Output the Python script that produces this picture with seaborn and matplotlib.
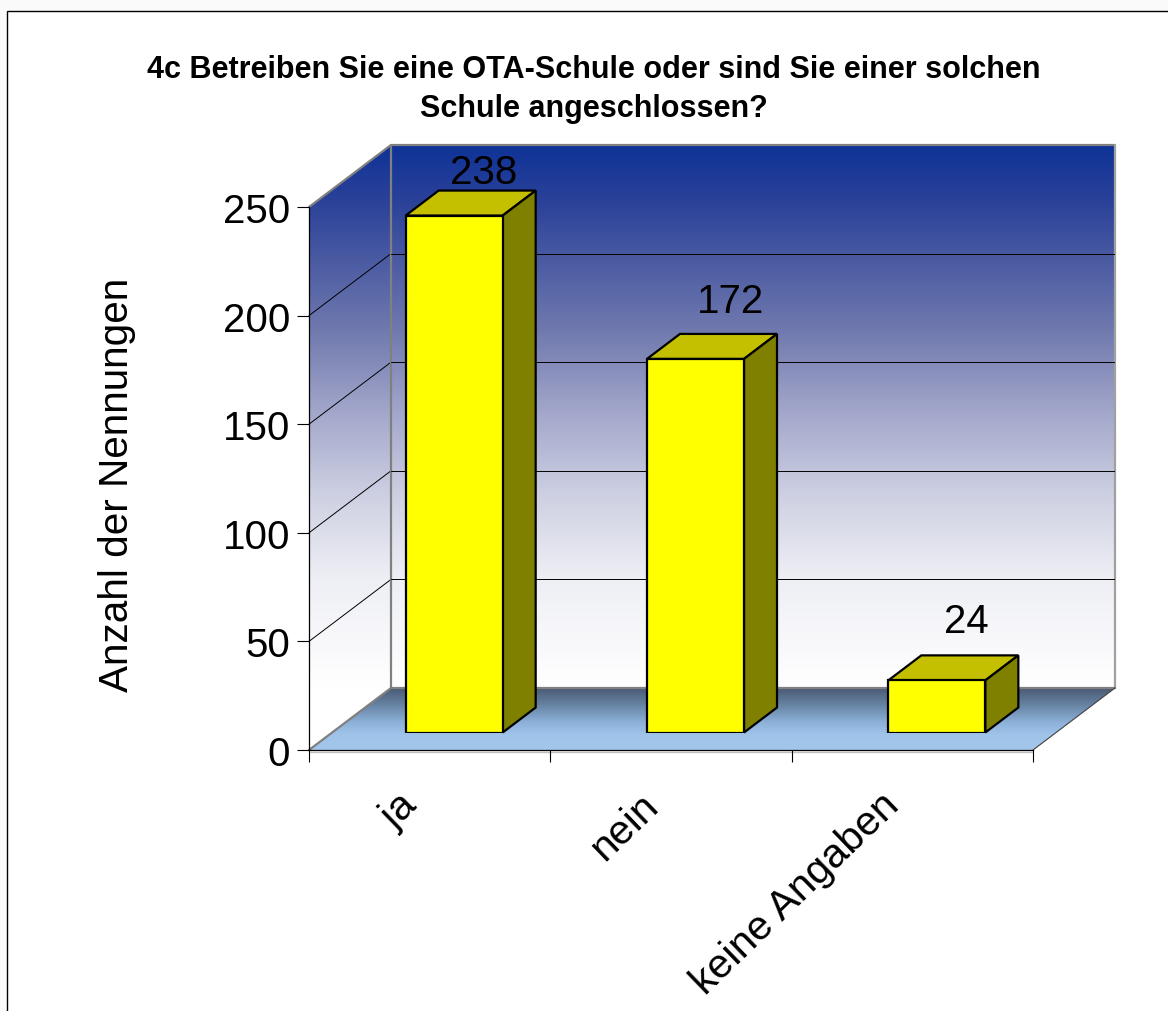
import numpy as np
import matplotlib
matplotlib.use("Agg")
from matplotlib import pyplot as plt
from matplotlib.colors import LinearSegmentedColormap
from matplotlib.patches import Polygon, Rectangle
from matplotlib.transforms import IdentityTransform
import seaborn as sns

# Daten
categories = ["ja", "nein", "keine Angaben"]
values = [238, 172, 24]
y_ticks = [0, 50, 100, 150, 200, 250]
label_lift = [44, 58, 59]
label_shift = [29, 34.5, 29.5]

title = "4c Betreiben Sie eine OTA-Schule oder sind Sie einer solchen\nSchule angeschlossen?"
y_label = "Anzahl der Nennungen"

# Geometrie in Pixeln
W, H = 1168, 1012
FRONT = (309, 208, 1033, 751)
DEPTH = (82, -62)
BAR_SHIFT = (24.5, -17.5)
BAR_DEPTH = (33, -25)

sns.set_theme(style="white")
plt.rcParams["font.family"] = ["Liberation Sans", "DejaVu Sans"]

fig = plt.figure(figsize=(W / 100, H / 100), dpi=100, facecolor="#fafafa")


def px_axes(left, top, right, bottom):
    ax = fig.add_axes([left / W, 1 - bottom / H, (right - left) / W, (bottom - top) / H])
    ax.patch.set_visible(False)
    return ax


# Hintergrund, Rahmen, Waende, Boden
frame = fig.add_axes([0, 0, 1, 1])
frame.axis("off")
frame.add_patch(Rectangle((6.5, 11.5), W, H, facecolor="white", edgecolor="black", linewidth=1,
                          zorder=0))

wall_cmap = LinearSegmentedColormap.from_list("wall", [
    (0.0, "#0f3397"), (0.1, "#2a4199"), (0.34, "#7079ae"), (0.5, "#a5a9cc"),
    (0.65, "#cfd1e3"), (0.8, "#eeeff5"), (1.0, "#ffffff")])
floor_cmap = LinearSegmentedColormap.from_list("floor", [
    (0.0, "#4a5a73"), (0.25, "#64809f"), (0.55, "#8cb0d8"), (0.75, "#9fc3e9"), (1.0, "#a3c6ec")])
ramp = np.linspace(0, 1, 256).reshape(-1, 1)

x0, top, x1, bottom = FRONT
dx, dy = DEPTH
wall_top, wall_bottom = top + dy, bottom + dy
walls = frame.imshow(ramp, cmap=wall_cmap, aspect="auto", zorder=1,
                     extent=(x0, x1 + dx, wall_bottom, wall_top))
walls.set_clip_path(Polygon([(x0, top), (x0 + dx, wall_top), (x1 + dx, wall_top),
                             (x1 + dx, wall_bottom), (x0 + dx, wall_bottom), (x0, bottom)],
                            transform=frame.transData))
floor = frame.imshow(ramp, cmap=floor_cmap, aspect="auto", zorder=1,
                     extent=(x0, x1 + dx, bottom, wall_bottom))
floor.set_clip_path(Polygon([(x0, bottom), (x0 + dx, wall_bottom), (x1 + dx, wall_bottom),
                             (x1, bottom)], transform=frame.transData))
frame.set_xlim(0, W)
frame.set_ylim(H, 0)

# Rueckwand: Gitterlinien
back = px_axes(x0 + dx, wall_top, x1 + dx, wall_bottom)
back.set_ylim(0, 250)
back.axis("off")
for v in y_ticks[1:-1]:
    back.axhline(v, color="black", linewidth=0.7)

# Vorderebene: Achsen
front = px_axes(x0, top, x1, bottom)
front.set_xlim(-0.5, 2.5)
front.set_ylim(0, 250)
front.set_yticks(y_ticks)
front.set_xticks([-0.5, 0.5, 1.5, 2.5])
front.set_xticklabels([])
front.tick_params(axis="x", bottom=True, length=8.5, width=0.8, color="black")
front.tick_params(axis="y", left=True, length=8.5, width=0.8, color="black", pad=5,
                  labelsize=29, labelcolor="black")
for i, cat in enumerate(categories):
    front.annotate(cat, xy=(i, 0), xytext=(-23, -25.5), textcoords="offset points", rotation=44,
                   ha="right", va="top", rotation_mode="anchor", fontsize=29.5, color="black")
sns.despine(ax=front, top=True, right=True)
for side in ["left", "bottom"]:
    front.spines[side].set_color("black")
    front.spines[side].set_linewidth(0.9)

# Diagonale Gitterlinien auf der linken Wand
for v in y_ticks[1:-1]:
    px, py = front.transData.transform((-0.5, v))
    frame.plot([px, px + dx], [py, py - dy], color="black", linewidth=0.7,
               transform=IdentityTransform(), clip_on=False)

# graue Kanten der Waende
edge = "#808080"
frame.plot([x0, x0 + dx, x1 + dx], [top, wall_top, wall_top], color=edge, linewidth=1.6)
frame.plot([x1 + dx, x1 + dx], [wall_top, wall_bottom], color="#a0a0a0", linewidth=1.6)
frame.plot([x0 + dx, x0 + dx], [wall_top, wall_bottom], color=edge, linewidth=1.6)
frame.plot([x0, x0 + dx, x1 + dx], [bottom, wall_bottom, wall_bottom], color=edge, linewidth=1.6)
frame.plot([x1, x1 + dx], [bottom, wall_bottom], color="#404040", linewidth=0.8)
frame.plot([x0, x1], [bottom + 1.5, bottom + 1.5], color="#c0c0c0", linewidth=1)

# Balken
sx, sy = BAR_SHIFT
ax_bar = px_axes(x0 + sx, top + sy, x1 + sx, bottom + sy)
sns.barplot(x=categories, y=values, ax=ax_bar, color="#ffff00", saturation=1, width=0.402,
            edgecolor="black", linewidth=1.6, zorder=5)
ax_bar.set_xlim(-0.5, 2.5)
ax_bar.set_ylim(0, 250)
ax_bar.axis("off")

bx, by = BAR_DEPTH[0], -BAR_DEPTH[1]
for bar, lift, shift, val in zip(ax_bar.patches, label_lift, label_shift, values):
    (l, b), (r, t) = ax_bar.transData.transform(bar.get_bbox().get_points())
    for pts, col in [([(l, t), (r, t), (r + bx, t + by), (l + bx, t + by)], "#c4c000"),
                     ([(r, b), (r + bx, b + by), (r + bx, t + by), (r, t)], "#808000")]:
        ax_bar.add_patch(Polygon(pts, facecolor=col, edgecolor="black", linewidth=1.6,
                                 joinstyle="miter", transform=IdentityTransform(),
                                 clip_on=False, zorder=4))
    ax_bar.annotate(str(val), xy=(bar.get_x() + bar.get_width() / 2, val),
                    xytext=(shift * 0.72, lift * 0.72), textcoords="offset points",
                    ha="center", va="center", fontsize=29, color="black", zorder=6)

# Texte
fig.text(594 / W, 1 - 89.5 / H, title, ha="center", va="center", fontsize=22, fontweight="bold",
         color="black", linespacing=1.4)
fig.text(116.5 / W, 1 - 485 / H, y_label, rotation=90, ha="center", va="center", fontsize=29.2,
         color="black")

fig.savefig("out.png", dpi=100, facecolor=fig.get_facecolor())
